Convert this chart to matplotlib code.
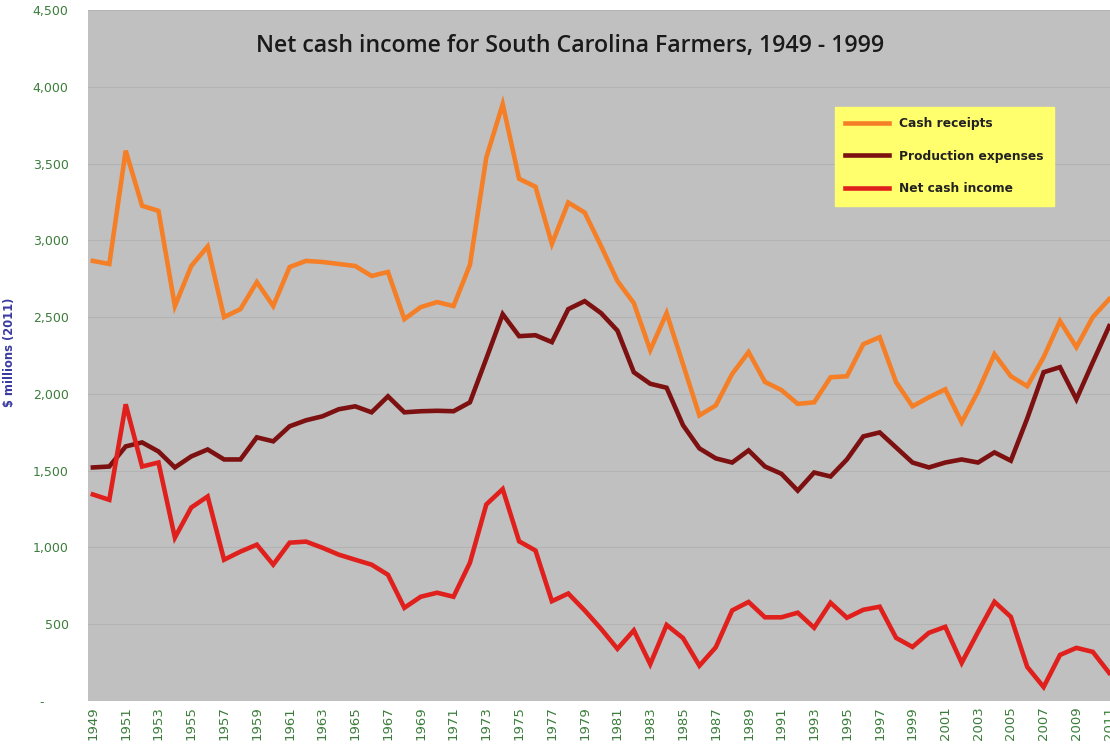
import matplotlib.pyplot as plt
import numpy as np

years = list(range(1949, 2012))

cash_receipts = [
    2866, 2846, 3584, 3225, 3192, 2572, 2833, 2960, 2500, 2552,
    2728, 2572, 2826, 2866, 2859, 2846, 2833, 2768, 2794, 2487,
    2565, 2598, 2572, 2840, 3540, 3887, 3401, 3349, 2977, 3246,
    3181, 2963, 2735, 2591, 2285, 2526, 2193, 1860, 1925, 2130,
    2272, 2078, 2025, 1935, 1945, 2108, 2115, 2324, 2369, 2076,
    1919, 1978, 2030, 1815, 2017, 2258, 2115, 2050, 2239, 2474,
    2304, 2500, 2617,
]
production_expenses = [
    1521, 1527, 1658, 1684, 1625, 1521, 1593, 1638, 1573, 1573,
    1717, 1691, 1789, 1828, 1854, 1900, 1919, 1880, 1984, 1880,
    1887, 1890, 1887, 1945, 2230, 2519, 2376, 2382, 2337, 2552,
    2604, 2526, 2412, 2141, 2066, 2040, 1796, 1645, 1580, 1553,
    1632, 1527, 1480, 1370, 1488, 1462, 1573, 1723, 1749, 1651,
    1553, 1521, 1553, 1573, 1553, 1619, 1565, 1840, 2141, 2174,
    1965, 2206, 2441,
]
net_cash_income = [
    1345, 1310, 1932, 1527, 1553, 1064, 1260, 1332, 920, 973,
    1018, 888, 1031, 1038, 998, 953, 920, 888, 822, 607,
    679, 705, 679, 900, 1280, 1380, 1040, 980, 650, 700,
    590, 470, 340, 460, 240, 495, 410, 230, 350, 590,
    645, 545, 545, 575, 477, 640, 542, 594, 614, 411,
    352, 444, 483, 248, 450, 646, 548, 222, 91, 300,
    346, 320, 183,
]

series_names = ['Cash receipts', 'Production expenses', 'Net cash income']
series_colors = ['#f57f27', '#7d1010', '#e0201c']

# small texts use a wide face, like the blurry original
small = ['DejaVu Sans']

fig = plt.figure(figsize=(11.1, 7.53), dpi=100)
ax = fig.add_axes([88 / 1110, 52 / 753, 1 - 88 / 1110, 691 / 753])
ax.set_facecolor('#c0c0c0')

for vals, name, col in zip([cash_receipts, production_expenses, net_cash_income],
                           series_names, series_colors):
    ax.plot(years, vals, color=col, lw=3.3, label=name, solid_joinstyle='miter')

ax.set_xlim(1948.7, 2011.05)
ax.set_ylim(0, 4500)

yt = np.arange(0, 4501, 500)
ax.set_yticks(yt)
ax.set_yticklabels(['-      ' if v == 0 else f'{v:,}' for v in yt])
ax.set_xticks(years[::2])
ax.set_xticklabels([str(y) for y in years[::2]], rotation=90)
ax.tick_params(axis='y', length=0, pad=14, labelsize=9, labelcolor='#3b7d3b')
ax.tick_params(axis='x', length=0, pad=4, labelsize=9.5, labelcolor='#3b7d3b')
for lab in ax.get_xticklabels() + ax.get_yticklabels():
    lab.set_family(small)

ax.grid(axis='y', color='#b3b3b3', lw=0.8)
ax.set_axisbelow(True)
for s in ax.spines.values():
    s.set_visible(False)

ax.text(0.472, 0.948, 'Net cash income for South Carolina Farmers, 1949 - 1999',
        transform=ax.transAxes, ha='center', va='center', fontsize=16.7,
        fontweight='semibold', family=['Open Sans', 'DejaVu Sans'], color='#1a1a1a')

fig.text(0.009, 0.532, '$ millions (2011)', rotation=90, ha='center', va='center',
         fontsize=8.3, fontweight='bold', family=small, color='#3a3aa0')

leg = ax.legend(loc='upper left', bbox_to_anchor=(0.731, 0.86),
                prop={'family': small, 'size': 8.8, 'weight': 'bold'},
                frameon=True, fancybox=False, facecolor='#ffff6e', edgecolor='#ffff6e',
                framealpha=1, handlelength=3.6, handletextpad=0.8, labelspacing=1.6,
                borderpad=0.85, borderaxespad=0)
for t in leg.get_texts():
    t.set_color('#222222')

fig.savefig('out.png', dpi=100)
